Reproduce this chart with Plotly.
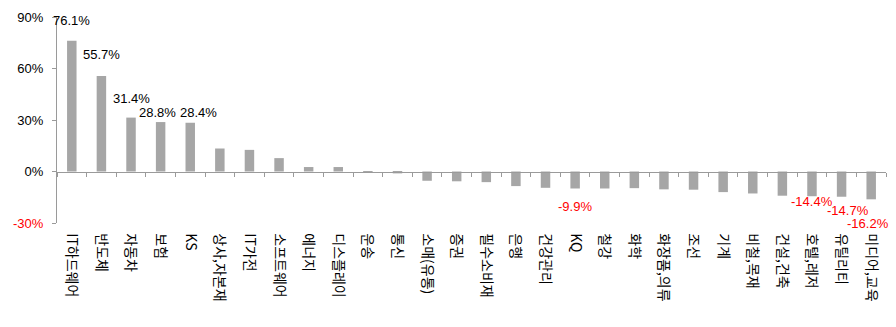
import plotly.graph_objects as go

categories = ["IT하드웨어", "반도체", "자동차", "보험", "KS", "상사,자본재", "IT가전",
              "소프트웨어", "에너지", "디스플레이", "운송", "통신", "소매(유통)", "증권",
              "필수소비재", "은행", "건강관리", "KQ", "철강", "화학", "화장품,의류", "조선",
              "기계", "비철,목재", "건설,건축", "호텔,레저", "유틸리티", "미디어,교육"]
values = [76.1, 55.7, 31.4, 28.8, 28.4, 13.4, 12.6, 7.8, 2.6, 2.6, -0.3, -1.1, -5.4, -5.7,
          -6.2, -8.5, -9.5, -9.9, -9.9, -9.7, -10.4, -10.6, -12.0, -12.8, -14.1, -14.4,
          -14.7, -16.2]
y_tick_vals = [90, 60, 30, 0, -30]
y_tick_text = ["90%", "60%", "30%", "0%", "<span style='color:#FF0000'>-30%</span>"]

# labelled bars: category -> (xshift, yshift) in pixels
label_offsets = {
    "IT하드웨어": (0, 20), "반도체": (0, 21), "자동차": (0, 19), "보험": (-3, 10),
    "KS": (8, 10), "KQ": (0, -18), "호텔,레저": (0, -5), "유틸리티": (6, -14),
    "미디어,교육": (-3, -24),
}

BAR = "#A6A6A6"
AXIS = "#9A9A9A"

fig = go.Figure()
fig.add_trace(go.Bar(x=categories, y=values, width=0.32,
                     marker=dict(color=BAR, line=dict(width=0)),
                     hoverinfo="skip"))

annotations = []
for cat, (dx, dy) in label_offsets.items():
    v = values[categories.index(cat)]
    annotations.append(dict(
        x=cat, y=v, xref="x", yref="y", text=f"{v:.1f}%", showarrow=False,
        xshift=dx, yshift=dy,
        font=dict(family="Liberation Sans, Arial", size=13,
                  color="#000000" if v > 0 else "#FF0000")))

fig.update_layout(
    width=896, height=327,
    margin=dict(l=57, r=10, t=14, b=104),
    paper_bgcolor="white", plot_bgcolor="white",
    showlegend=False,
    font=dict(family="Liberation Sans, Arial", size=13, color="#000000"),
    annotations=annotations,
    xaxis=dict(
        type="category", categoryorder="array", categoryarray=categories,
        range=[-0.5, len(categories) - 0.5],
        anchor="free", position=0.25,
        showline=True, linecolor=AXIS, linewidth=1,
        ticks="outside", tickson="boundaries", ticklen=4, tickcolor=AXIS,
        showgrid=False, zeroline=False,
        tickangle=90, ticklabelstandoff=58,
        tickfont=dict(family="Noto Sans CJK KR", size=14, color="#000000"),
    ),
    yaxis=dict(
        range=[-30, 90], tickvals=y_tick_vals, ticktext=y_tick_text,
        showline=True, linecolor=AXIS, linewidth=1,
        ticks="outside", ticklen=4, tickcolor=AXIS,
        showgrid=False, zeroline=False, ticklabelstandoff=6,
        tickfont=dict(family="Liberation Sans, Arial", size=13, color="#000000"),
    ),
)

fig.write_html("out.html")
